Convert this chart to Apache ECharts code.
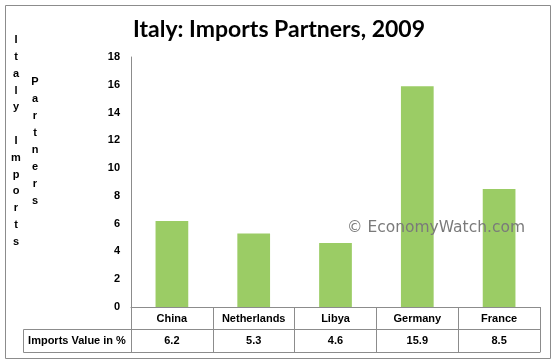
<!DOCTYPE html>
<html>
<head>
<meta charset="utf-8">
<script src="https://cdn.jsdelivr.net/npm/echarts@6/dist/echarts.min.js"></script>
<style>html,body{margin:0;padding:0;background:#fff;}#c{width:558px;height:364px;}</style>
</head>
<body>
<div id="c"></div>
<script>
const titleText = 'Italy: Imports Partners, 2009';
const categories = ['China', 'Netherlands', 'Libya', 'Germany', 'France'];
const importsValue = [6.2, 5.3, 4.6, 15.9, 8.5];
const yMin = 0, yMax = 18, yStep = 2;
const rowLabel = 'Imports Value in %';
const axisNameCol1 = ['I','t','a','l','y',' ','I','m','p','o','r','t','s'];
const axisNameCol2 = ['P','a','r','t','n','e','r','s'];
const watermark = '\u00A9 EconomyWatch.com';

const G = {left: 131, right: 18, top: 57, bottom: 57};
const smallFont = {fontFamily: 'Liberation Sans', fontWeight: 'bold', fontSize: 11, color: '#000'};
const lineColor = '#8c8c8c';

const chart = echarts.init(document.getElementById('c'));
chart.setOption({
  animation: false,
  backgroundColor: '#fff',
  title: {
    text: titleText, left: 'center', top: 13,
    textStyle: {fontFamily: 'Lato', fontWeight: 'bold', fontSize: 23, color: '#000'}
  },
  grid: G,
  xAxis: [
    {
      type: 'category', data: categories, position: 'bottom',
      axisLine: {show: true, lineStyle: {color: lineColor}},
      axisTick: {show: true, interval: 0, length: 45, lineStyle: {color: lineColor}},
      axisLabel: Object.assign({margin: 6, interval: 0}, smallFont)
    },
    {
      type: 'category', data: categories, position: 'bottom', offset: 22,
      axisLine: {show: true, lineStyle: {color: lineColor}},
      axisTick: {show: false},
      axisLabel: Object.assign({margin: 6, interval: 0, formatter: (v, i) => String(importsValue[i])}, smallFont)
    },
    {
      type: 'category', data: categories, position: 'bottom', offset: 45,
      axisLine: {show: true, lineStyle: {color: lineColor}},
      axisTick: {show: false},
      axisLabel: {show: false}
    }
  ],
  yAxis: {
    type: 'value', min: yMin, max: yMax, interval: yStep,
    axisLine: {show: true, lineStyle: {color: lineColor}},
    axisTick: {show: false},
    splitLine: {show: false},
    axisLabel: Object.assign({margin: 11}, smallFont)
  },
  series: [{
    type: 'bar', data: importsValue, barWidth: '40%', xAxisIndex: 0,
    itemStyle: {color: '#9bcc65'}
  }],
  graphic: [
    {type: 'rect', shape: {x: 5.5, y: 5.5, width: 545, height: 353}, style: {fill: 'none', stroke: '#8c8c8c', lineWidth: 1}, z: -1, silent: true},
    {type: 'rect', shape: {x: 23.5, y: 329.5, width: G.left - 23, height: 23}, style: {fill: 'none', stroke: lineColor, lineWidth: 1}},
    {type: 'text', x: 77, y: 341, style: {text: rowLabel, align: 'center', verticalAlign: 'middle', font: 'bold 11px "Liberation Sans"', fill: '#000'}},
    {type: 'text', x: 16, y: 141, style: {text: axisNameCol1.join('\n'), align: 'center', verticalAlign: 'middle', lineHeight: 16.8, font: 'bold 11px "Liberation Sans"', fill: '#000'}},
    {type: 'text', x: 35, y: 141, style: {text: axisNameCol2.join('\n'), align: 'center', verticalAlign: 'middle', lineHeight: 17, font: 'bold 11px "Liberation Sans"', fill: '#000'}},
    {type: 'text', x: 436, y: 228, z: 100, style: {text: watermark, align: 'center', verticalAlign: 'middle', font: '15.5px "DejaVu Sans"', fill: '#7a7a7a'}}
  ]
});
</script>
</body>
</html>
